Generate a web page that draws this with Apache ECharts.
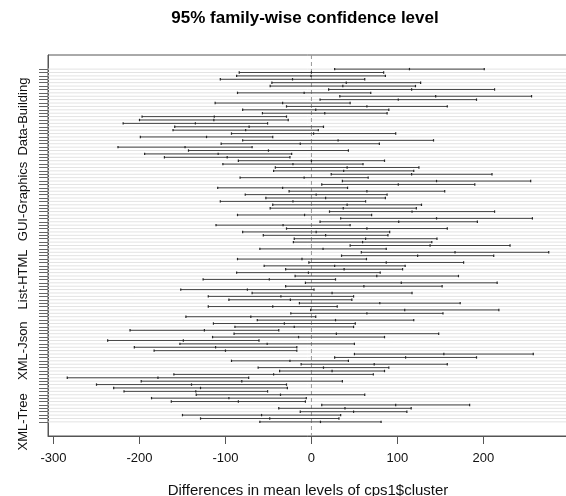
<!DOCTYPE html>
<html>
<head>
<meta charset="utf-8">
<script src="https://cdn.jsdelivr.net/npm/echarts@6/dist/echarts.min.js"></script>
<style>
html,body{margin:0;padding:0;background:#fff;}
#chart{width:566px;height:496px;}
</style>
</head>
<body>
<div id="chart"></div>
<script>
// Tukey HSD comparisons, top row first (105 pairwise comparisons)
const lower = [27,-84,-87,-106,-46,-48,20,-86,33,10,-112,-29,-80,-57,
 -197,-200,-219,-159,-161,-93,-199,-80,-105,-225,-143,-194,-171,
 -85,-103,-42,-44,23,-83,36,12,-109,-26,-77,-53,
 -106,-45,-48,21,-86,34,10,-111,-29,-80,-56,
 -20,-21,45,-60,58,35,-86,-3,-55,-30,
 -87,-19,-126,-7,-30,-152,-69,-120,-96,
 -14,-120,-1,-24,-146,-63,-114,-89,
 -211,-90,-115,-237,-153,-206,-183,
 50,27,-93,-12,-62,-37,
 -160,-284,-198,-250,-230,
 -218,-134,-186,-163,
 12,-38,-13,
 -150,-129,
 -60];
const diff = [114,0,-0.5,-22,40.5,36.5,116.5,-8.5,144.5,101,-33.5,64.5,5,15.5,
 -113,-113.5,-135,-72.5,-76.5,2.5,-122,31,-13,-147,-50,-108.5,-98,
 0,-21.5,41.5,37.5,116.5,-8.5,145.5,101,-33.5,64.5,5.5,16.5,
 -21.5,41.5,37,117,-8,145.5,101.5,-33,64.5,5.5,16.5,
 63,59.5,138,13.5,167,123.5,-11,87,27,38,
 -3.5,76,-49,104.5,61,-74.5,24,-35.5,-24.5,
 79.5,-45,108.5,64.5,-70.5,28,-31.5,-20,
 -124.5,29,-15,-149,-51.5,-111.5,-100,
 154,109.5,-25,73,14,24,
 -44,-178.5,-81,-139.5,-129,
 -134.5,-36,-96,-85,
 98,39,49,
 -58,-48.5,
 10.5];
const upper = [201,84,86,62,127,121,213,69,256,192,45,158,90,88,
 -29,-27,-51,14,8,98,-45,142,79,-69,43,-23,-25,
 85,60,125,119,210,66,255,190,42,155,88,86,
 63,128,122,213,70,257,193,45,158,91,89,
 146,140,231,87,276,212,64,177,109,106,
 80,171,28,216,152,3,117,49,47,
 173,30,218,153,5,119,51,49,
 -38,148,85,-61,50,-17,-17,
 258,192,43,158,90,85,
 72,-73,36,-29,-28,
 -51,62,-6,-7,
 184,116,111,
 34,32,
 81];
// rows (0 = top) whose comparison names are printed on the axis
const labelRows = [14, 39, 62, 83, 104];
const labelNames = ['Data-Building', 'GUI-Graphics', 'List-HTML', 'XML-Json', 'XML-Tree'];
const xTicks = [-300, -200, -100, 0, 100, 200];

const N = lower.length;
const XMIN = -306.4, XMAX = 298.4;
const YMIN = 1 - 0.04 * (N - 1), YMAX = N + 0.04 * (N - 1);
const rows = lower.map((l, k) => [N - k, l, diff[k], upper[k]]);
const yTickVals = rows.map(r => r[0]);
const yLabelVals = labelRows.map(k => N - k);
const nameByY = {};
labelRows.forEach((k, i) => { nameByY[N - k] = labelNames[i]; });

const FONT = '"Liberation Sans", Arial, Helvetica, sans-serif';
const chart = echarts.init(document.getElementById('chart'), null, {renderer: 'canvas'});
chart.setOption({
  animation: false,
  backgroundColor: '#fff',
  grid: {left: 48, top: 55, width: 520, height: 381, show: true, borderColor: '#555', borderWidth: 1,
    backgroundColor: 'transparent', containLabel: false, outerBoundsMode: 'none'},
  graphic: [{
    type: 'text', x: 305, y: 18,
    style: {text: '95% family-wise confidence level', font: 'bold 17px ' + FONT, fill: '#000', textAlign: 'center', textVerticalAlign: 'middle'}
  }],
  xAxis: {
    type: 'value', min: XMIN, max: XMAX,
    name: 'Differences in mean levels of cps1$cluster', nameLocation: 'middle', nameGap: 47,
    nameTextStyle: {fontFamily: FONT, fontSize: 15, color: '#111'},
    axisLine: {show: true, onZero: false, lineStyle: {color: '#555', width: 1}},
    axisTick: {show: true, length: 8, customValues: xTicks, lineStyle: {color: '#555'}},
    axisLabel: {customValues: xTicks, margin: 16, fontFamily: FONT, fontSize: 13, color: '#111'},
    splitLine: {show: false}
  },
  yAxis: {
    type: 'value', min: YMIN, max: YMAX,
    axisLine: {show: true, onZero: false, lineStyle: {color: '#555', width: 1}},
    axisTick: {show: true, length: 9, customValues: yTickVals, lineStyle: {color: '#666', width: 1}},
    axisLabel: {customValues: yLabelVals, rotate: 90, margin: 18, fontFamily: FONT, fontSize: 13, color: '#111',
      formatter: v => nameByY[Math.round(v)] || ''},
    splitLine: {show: false}
  },
  series: [{
    type: 'custom', name: 'guides', z: 1, silent: true,
    data: rows,
    encode: {x: [1, 3], y: 0},
    renderItem: function (params, api) {
      const y = api.value(0);
      const a = api.coord([XMIN, y]), b = api.coord([XMAX, y]);
      const children = [{type: 'line', shape: {x1: a[0], y1: a[1], x2: b[0], y2: b[1]},
        style: {stroke: '#e3e3e3', lineWidth: 1}}];
      if (params.dataIndex === 0) {
        const t = api.coord([0, YMAX]), u = api.coord([0, YMIN]);
        children.push({type: 'line', shape: {x1: t[0], y1: t[1], x2: u[0], y2: u[1]},
          style: {stroke: '#999', lineWidth: 1, lineDash: [4, 3]}, z2: 5});
      }
      return {type: 'group', children: children};
    }
  }, {
    type: 'custom', name: 'intervals', z: 3, silent: true,
    data: rows,
    encode: {x: [1, 3], y: 0},
    renderItem: function (params, api) {
      const y = api.value(0);
      const pl = api.coord([api.value(1), y]);
      const pc = api.coord([api.value(2), y]);
      const pu = api.coord([api.value(3), y]);
      const h = 1.2;
      const tick = p => ({type: 'line', shape: {x1: p[0], y1: p[1] - h, x2: p[0], y2: p[1] + h},
        style: {stroke: '#222', lineWidth: 1.2}});
      return {type: 'group', children: [
        {type: 'line', shape: {x1: pl[0], y1: pl[1], x2: pu[0], y2: pu[1]}, style: {stroke: '#444', lineWidth: 1}},
        tick(pl), tick(pc), tick(pu)
      ]};
    }
  }]
});
</script>
</body>
</html>
